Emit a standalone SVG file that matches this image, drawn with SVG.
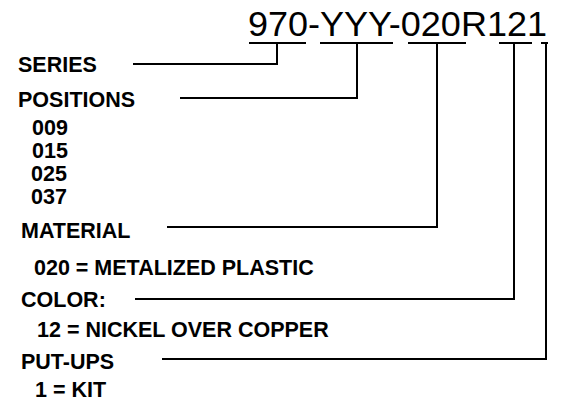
<svg xmlns="http://www.w3.org/2000/svg" width="561" height="408" viewBox="0 0 561 408">
<style>
.t{font-family:"Liberation Sans",Arial,sans-serif;fill:#000}
.lbl{font-size:21.5px;font-weight:bold}
.title{font-size:35px}
.ln{fill:none;stroke:#000;stroke-width:2}
</style>
<rect width="561" height="408" fill="#fff"/>
<g id="partnumber">
<text class="t title" x="248" y="36" textLength="299" lengthAdjust="spacingAndGlyphs">970-YYY-020R121</text>
<path class="ln" d="M249,43H306M320,43H393M408,43H466M499,43H532M541,43H548"/>
</g>
<g id="series"><text class="t lbl" x="18" y="72">SERIES</text></g>
<g id="positions">
<text class="t lbl" x="18" y="107">POSITIONS</text>
<text class="t lbl" x="32" y="135">009</text>
<text class="t lbl" x="32" y="158">015</text>
<text class="t lbl" x="31" y="181">025</text>
<text class="t lbl" x="31" y="204">037</text>
</g>
<g id="material">
<text class="t lbl" x="21" y="238">MATERIAL</text>
<text class="t lbl" x="34" y="275">020 = METALIZED PLASTIC</text>
</g>
<g id="color">
<text class="t lbl" x="21" y="307">COLOR:</text>
<text class="t lbl" x="37" y="337">12 = NICKEL OVER COPPER</text>
</g>
<g id="putups">
<text class="t lbl" x="21" y="369">PUT-UPS</text>
<text class="t lbl" x="35" y="397">1 = KIT</text>
</g>
<g id="connectors">
<path class="ln" d="M133,64H277V43"/>
<path class="ln" d="M180,98H357V43"/>
<path class="ln" d="M167,227H437V43"/>
<path class="ln" d="M135,299H514V43"/>
<path class="ln" d="M162,359H546V43"/>
</g>
</svg>
